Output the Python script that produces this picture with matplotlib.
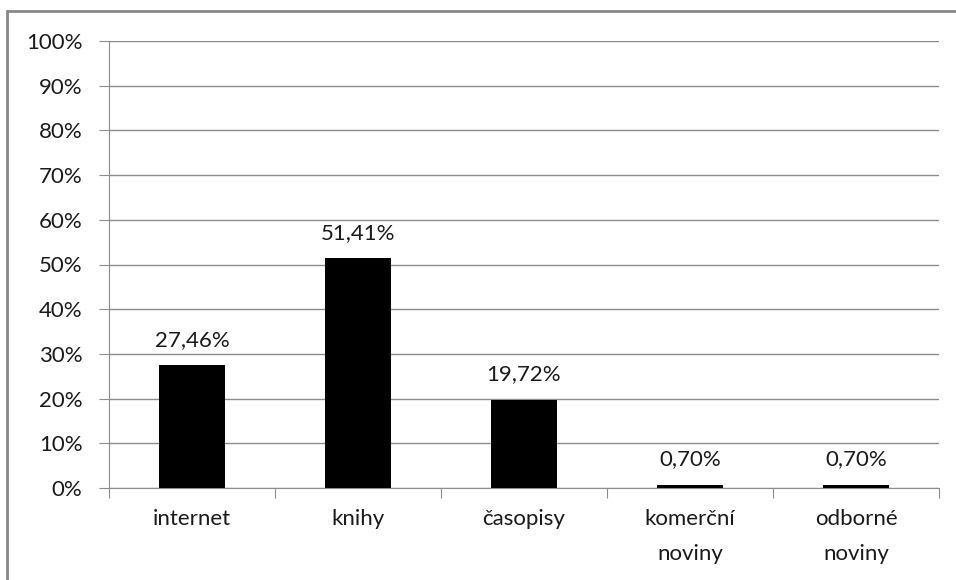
import matplotlib.pyplot as plt
from matplotlib.patches import Rectangle
from matplotlib.ticker import FixedLocator, NullFormatter

categories = ["internet", "knihy", "časopisy", "komerční\nnoviny", "odborné\nnoviny"]
values = [27.46, 51.41, 19.72, 0.70, 0.70]
labels = ["27,46%", "51,41%", "19,72%", "0,70%", "0,70%"]

plt.rcParams['font.family'] = ['Lato', 'DejaVu Sans']
FS = 16
TXT = '#1a1a1a'

W, H = 956, 580
fig = plt.figure(figsize=(W / 100, H / 100), dpi=100)
ax = fig.add_axes([109 / W, (H - 488) / H, (939 - 109) / W, (488 - 41) / H])

x = range(len(categories))
ax.bar(x, values, width=0.4, color='black', zorder=3)

for xi, v, lab in zip(x, values, labels):
    ax.annotate(lab, (xi, v), xytext=(0, 11), textcoords='offset points',
                ha='center', va='bottom', fontsize=FS, color=TXT)

ax.set_xlim(-0.5, len(categories) - 0.5)
ax.set_ylim(0, 100)
ax.set_yticks(range(0, 101, 10))
ax.set_yticklabels([f"{t}%" for t in range(0, 101, 10)], fontsize=FS, color=TXT)
ax.yaxis.grid(True, color='#8c8c8c', linewidth=1, zorder=0)

# category labels in the middle, ticks on the boundaries
ax.xaxis.set_major_locator(FixedLocator([i - 0.5 for i in range(len(categories) + 1)]))
ax.xaxis.set_major_formatter(NullFormatter())
ax.xaxis.set_minor_locator(FixedLocator(list(x)))
ax.set_xticklabels(categories, minor=True, fontsize=FS, color=TXT, linespacing=1.95)
ax.tick_params(axis='x', which='minor', length=0, pad=15)
ax.tick_params(axis='x', which='major', length=7, color='#8c8c8c', direction='out')
ax.tick_params(axis='y', length=7, color='#8c8c8c', pad=12)

for s in ['top', 'right']:
    ax.spines[s].set_visible(False)
for s in ['left', 'bottom']:
    ax.spines[s].set_color('#8c8c8c')

# outer chart border
fig.patches.append(Rectangle((7 / W, -0.1), 1.2, 1 - 11 / H + 0.1, transform=fig.transFigure,
                             fill=False, edgecolor='#888888', linewidth=2))

fig.savefig('out.png', dpi=100)
